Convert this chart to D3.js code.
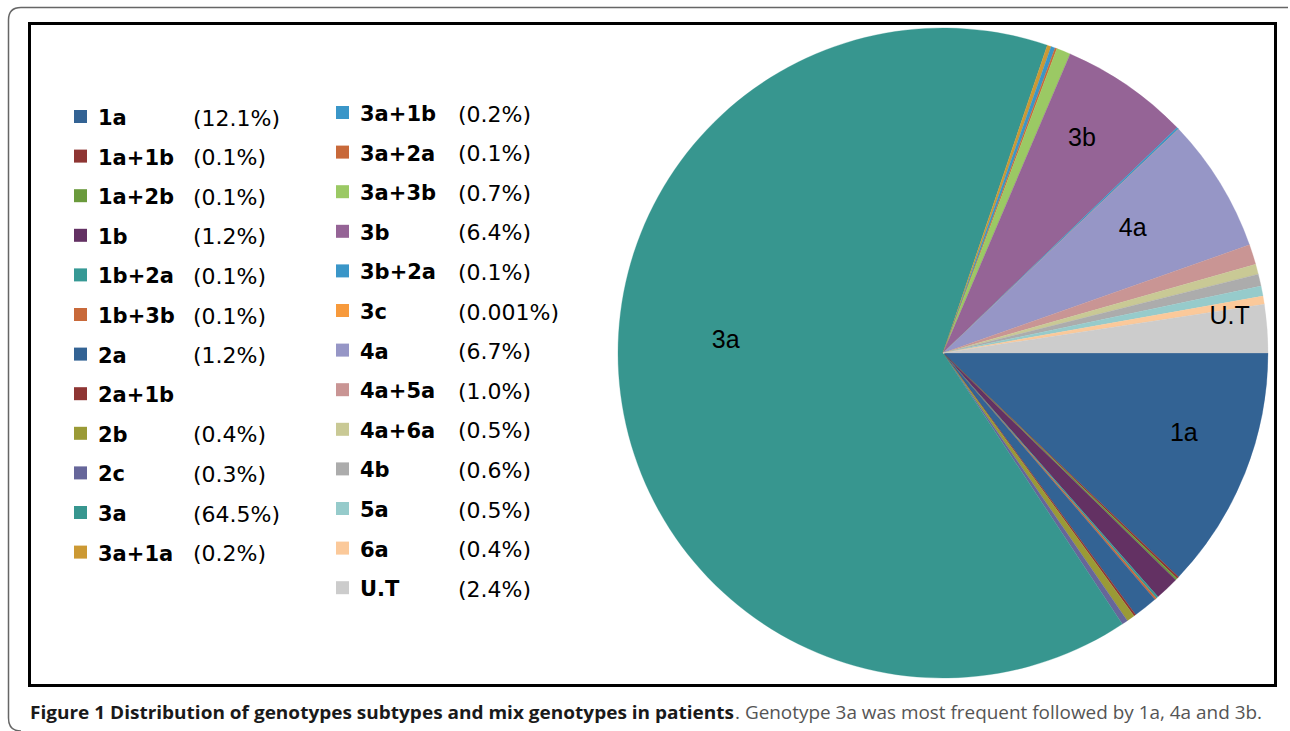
<!DOCTYPE html>
<html><head><meta charset="utf-8">
<script src="https://cdn.jsdelivr.net/npm/d3@7"></script>
<style>html,body{margin:0;padding:0;background:#fff;}svg{display:block;}</style>
</head><body>
<svg id="chart" width="1290" height="731"></svg>
<script>
// ---- data ----
const categories = ["1a","1a+1b","1a+2b","1b","1b+2a","1b+3b","2a","2a+1b","2b","2c","3a","3a+1a",
  "3a+1b","3a+2a","3a+3b","3b","3b+2a","3c","4a","4a+5a","4a+6a","4b","5a","6a","U.T"];
const values = [12.1,0.1,0.1,1.2,0.1,0.1,1.2,0.1,0.4,0.3,64.5,0.2,
  0.2,0.1,0.7,6.4,0.1,0.001,6.7,1.0,0.5,0.6,0.5,0.4,2.4];
const percentLabels = ["(12.1%)","(0.1%)","(0.1%)","(1.2%)","(0.1%)","(0.1%)","(1.2%)",null,"(0.4%)","(0.3%)","(64.5%)","(0.2%)",
  "(0.2%)","(0.1%)","(0.7%)","(6.4%)","(0.1%)","(0.001%)","(6.7%)","(1.0%)","(0.5%)","(0.6%)","(0.5%)","(0.4%)","(2.4%)"];
const colors = ["#336394","#8e3533","#6a9a3c","#633163","#369995","#c8693a","#336394","#8e3533","#9a9a36","#66669a","#37968f","#cc9933",
  "#3a96c8","#c8693a","#9bc964","#956496","#3a96c8","#f79a3c","#9696c6","#c99594","#c9c995","#acacac","#96cbcb","#fbc99a","#cccccc"];
const sliceLabels = ["1a","3a","3b","4a","U.T"];
const captionBold = "Figure 1 Distribution of genotypes subtypes and mix genotypes in patients";
const captionRest = ". Genotype 3a was most frequent followed by 1a, 4a and 3b.";

// ---- drawing ----
const svg = d3.select("#chart");

// outer rounded frame
svg.append("path")
  .attr("d","M 1288 7.5 L 21 7.5 Q 8.5 7.5 8.5 20 L 8.5 718 Q 8.5 731 21 731")
  .attr("fill","none").attr("stroke","#666").attr("stroke-width",1.5);

// inner black frame
svg.append("rect").attr("x",29.5).attr("y",23.5).attr("width",1246).attr("height",662)
  .attr("fill","#fff").attr("stroke","#000").attr("stroke-width",3);

// pie
const cx = 943, cy = 353, R = 325;
const pie = d3.pie().sort(null).value(d => d.v)
  .startAngle(Math.PI/2).endAngle(Math.PI/2 + 2*Math.PI);
const data = categories.map((c,i)=>({name:c, v:values[i], color:colors[i]}));
const arcs = pie(data);
const arc = d3.arc().innerRadius(0).outerRadius(R);
const g = svg.append("g").attr("transform",`translate(${cx},${cy})`);
g.selectAll("path.slice").data(arcs).join("path").attr("class","slice")
  .attr("d",arc).attr("fill",d=>d.data.color)
  .attr("stroke",d=>d.data.color).attr("stroke-width",0.3);

// slice labels: radius factor & angle shift (degrees) relative to centroid angle
const labelTweak = {"1a":[0.78,-3.6],"3a":[0.67,11],"3b":[0.79,-1.8],"4a":[0.70,-2],"U.T":[0.89,-3.3]};
g.selectAll("text.sl").data(arcs.filter(d=>sliceLabels.includes(d.data.name))).join("text")
  .attr("class","sl")
  .attr("x",d=>{const t=labelTweak[d.data.name];const a=(d.startAngle+d.endAngle)/2+t[1]*Math.PI/180;return R*t[0]*Math.sin(a);})
  .attr("y",d=>{const t=labelTweak[d.data.name];const a=(d.startAngle+d.endAngle)/2+t[1]*Math.PI/180;return -R*t[0]*Math.cos(a);})
  .attr("text-anchor","middle").attr("dominant-baseline","central")
  .attr("font-family","Liberation Sans, Arial, sans-serif").attr("font-size",25).attr("fill","#000")
  .text(d=>d.data.name);

// legend
const col1 = 12;
const legend = svg.append("g");
data.forEach((d,i)=>{
  const col = i < col1 ? 0 : 1;
  const row = col===0 ? i : i-col1;
  const y = (col===0 ? 117 : 113) + row*39.6;
  const sx = col===0 ? 74 : 336;
  const tx = col===0 ? 98 : 360;
  const px = col===0 ? 193 : 458;
  legend.append("rect").attr("x",sx).attr("y",y-7).attr("width",13).attr("height",13).attr("fill",d.color);
  legend.append("text").attr("x",tx).attr("y",y+1).attr("dominant-baseline","central")
    .attr("font-family","DejaVu Sans, Verdana, sans-serif").attr("font-weight","bold").attr("font-size",21)
    .attr("fill","#000").text(d.name);
  if (percentLabels[i]) legend.append("text").attr("x",px).attr("y",y+1).attr("dominant-baseline","central")
    .attr("font-family","DejaVu Sans, Verdana, sans-serif").attr("font-size",22)
    .attr("fill","#000").text(percentLabels[i]);
});

// caption
svg.append("text").attr("x",30).attr("y",719).attr("textLength",704).attr("lengthAdjust","spacingAndGlyphs")
  .attr("font-family","Open Sans, sans-serif").attr("font-weight","bold").attr("font-size",18).attr("fill","#1a1a1a")
  .text(captionBold);
svg.append("text").attr("x",735).attr("y",719).attr("textLength",527).attr("lengthAdjust","spacingAndGlyphs")
  .attr("font-family","Open Sans, sans-serif").attr("font-size",18).attr("fill","#555")
  .text(captionRest);
</script>
</body></html>
